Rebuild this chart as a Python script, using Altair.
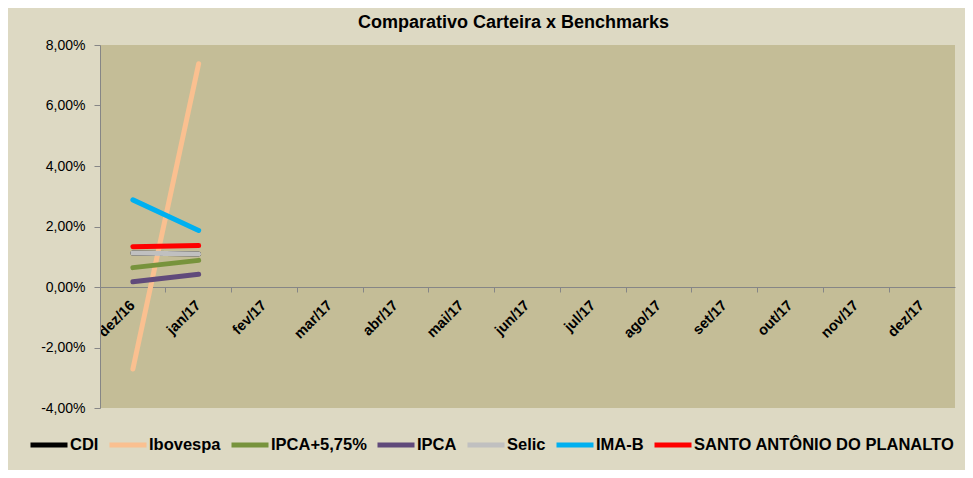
import altair as alt
import pandas as pd

months = ["dez/16", "jan/17", "fev/17", "mar/17", "abr/17", "mai/17", "jun/17",
          "jul/17", "ago/17", "set/17", "out/17", "nov/17", "dez/17"]

series_names = ["CDI", "Ibovespa", "IPCA+5,75%", "IPCA", "Selic", "IMA-B",
                "SANTO ANTÔNIO DO PLANALTO"]
series_colors = ["#000000", "#FAC090", "#77933C", "#604A7B", "#C0C0C0", "#00B0F0", "#FF0000"]

# monthly returns (%) for the months with data
cdi = [1.12, 1.09]
ibovespa = [-2.71, 7.38]
ipca_575 = [0.64, 0.88]
ipca = [0.17, 0.42]
selic = [1.12, 1.09]
ima_b = [2.88, 1.87]
carteira = [1.33, 1.37]

values = [cdi, ibovespa, ipca_575, ipca, selic, ima_b, carteira]

rows = []
for name, vals in zip(series_names, values):
    for m, v in zip(months, vals):
        rows.append({"mes": m, "serie": name, "valor": v})
df = pd.DataFrame(rows)

FONT = "Liberation Sans"

x_enc = alt.X(
    "mes:N",
    sort=months,
    scale=alt.Scale(type="band", domain=months, paddingInner=0, paddingOuter=0),
    bandPosition=0.5,
    axis=alt.Axis(
        title=None,
        bandPosition=0,
        labelOffset=0,
        labelAngle=-45,
        labelAlign="right",
        labelBaseline="middle",
        labelPadding=11,
        labelFont=FONT,
        labelFontSize=14.5,
        labelFontWeight="bold",
        labelColor="#000000",
        tickSize=5,
        tickColor="#868686",
        domainColor="#868686",
        offset=-121,
        grid=False,
        labelOverlap=False,
    ),
)

y_enc = alt.Y(
    "valor:Q",
    scale=alt.Scale(domain=[-4, 8], nice=False, zero=False),
    axis=alt.Axis(
        title=None,
        values=[-4, -2, 0, 2, 4, 6, 8],
        labelExpr="replace(replace(format(datum.value, '.2f'), '.', ','), '\u2212', '-') + '%'",
        labelFont=FONT,
        labelFontSize=14,
        labelColor="#000000",
        labelPadding=9,
        tickSize=6,
        tickColor="#868686",
        domainColor="#868686",
        grid=False,
    ),
)

color_enc = alt.Color(
    "serie:N",
    scale=alt.Scale(domain=series_names, range=series_colors),
    legend=alt.Legend(
        title=None,
        orient="none",
        legendX=-72,
        legendY=379,
        direction="horizontal",
        symbolType="stroke",
        symbolSize=1369,
        symbolStrokeWidth=5,
        labelFont=FONT,
        labelFontSize=16.5,
        labelFontWeight="bold",
        labelColor="#000000",
        labelOffset=0,
        columnPadding=0,
        labelLimit=400,
    ),
)

layers = []
for name in series_names:
    layers.append(
        alt.Chart(df)
        .transform_filter(alt.datum.serie == name)
        .mark_line(strokeWidth=5, strokeCap="round")
        .encode(x=x_enc, y=y_enc, color=color_enc)
    )

chart = (
    alt.layer(*layers)
    .properties(
        width=855,
        height=363,
        title=alt.TitleParams(
            "Comparativo Carteira x Benchmarks",
            font=FONT,
            fontSize=18,
            fontWeight="bold",
            color="#000000",
            anchor="middle",
            offset=6,
            dx=-14,
        ),
        autosize=alt.AutoSizeParams(type="none"),
        padding={"left": 92, "top": 37, "right": 10, "bottom": 62},
        background="#DDD9C3",
    )
    .configure_view(fill="#C4BD97", stroke=None)
)

chart.save("out.html", embed_options={"renderer": "svg", "actions": False})
